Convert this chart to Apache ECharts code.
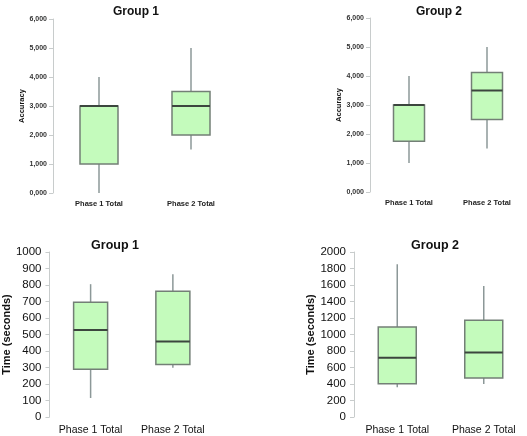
<!DOCTYPE html>
<html><head><meta charset="utf-8">
<script src="https://cdn.jsdelivr.net/npm/echarts@6/dist/echarts.min.js"></script>
<style>html,body{margin:0;padding:0;background:#fff}#c{width:527px;height:436px}</style>
</head><body><div id="c"></div>
<script>
var categories = ['Phase 1 Total', 'Phase 2 Total'];
// [min, Q1, median, Q3, max]
var accG1 = [[0, 1, 3, 3, 4], [1.5, 2, 3, 3.5, 5]];
var accG2 = [[1, 1.75, 3, 3, 4], [1.5, 2.5, 3.5, 4.125, 5]];
var timeG1 = [[115, 290, 527, 695, 805], [298, 318, 457, 762, 865]];
var timeG2 = [[362, 402, 717, 1092, 1852], [400, 474, 781, 1174, 1587]];
var accTicks = [0, 1, 2, 3, 4, 5, 6];

var chart = echarts.init(document.getElementById('c'), null, {renderer: 'canvas'});
var FILL = '#c4fbbc', EDGE = '#737f76', WHISK = '#8c9898', MED = '#3c463e';
var FONT = 'Liberation Sans, Arial, sans-serif';

function render(boxW) {
  return function (params, api) {
    var x = api.value(0);
    var pMin = api.coord([x, api.value(1)]);
    var pQ1 = api.coord([x, api.value(2)]);
    var pMed = api.coord([x, api.value(3)]);
    var pQ3 = api.coord([x, api.value(4)]);
    var pMax = api.coord([x, api.value(5)]);
    var cx = pQ1[0], h = boxW / 2;
    return {type: 'group', children: [
      {type: 'line', shape: {x1: cx, y1: pMax[1], x2: cx, y2: pQ3[1]}, style: {stroke: WHISK, lineWidth: 1.5}},
      {type: 'line', shape: {x1: cx, y1: pQ1[1], x2: cx, y2: pMin[1]}, style: {stroke: WHISK, lineWidth: 1.5}},
      {type: 'rect', shape: {x: cx - h, y: pQ3[1], width: boxW, height: pQ1[1] - pQ3[1]}, style: {fill: FILL, stroke: EDGE, lineWidth: 1.5}},
      {type: 'line', shape: {x1: cx - h, y1: pMed[1], x2: cx + h, y2: pMed[1]}, style: {stroke: MED, lineWidth: 2}}
    ]};
  };
}
function toData(arr) { return arr.map(function (v, i) { return [i].concat(v); }); }

var grids = [
  {left: 53, top: 19, width: 184, height: 174},
  {left: 370, top: 18, width: 156, height: 174},
  {left: 42, top: 252, width: 172, height: 167},
  {left: 354, top: 252, width: 184, height: 165}
];
var sets = [accG1, accG2, timeG1, timeG2];
var boxWs = [38, 31, 34, 38];
var small = [true, true, false, false];

var xAxes = [], yAxes = [], series = [];
for (var i = 0; i < 4; i++) {
  var sm = small[i];
  xAxes.push({type: 'category', gridIndex: i, data: categories,
    axisLine: {show: false}, axisTick: {show: false},
    axisLabel: {interval: 0, hideOverlap: false, color: sm ? '#222' : '#111', fontFamily: FONT, fontWeight: sm ? 'bold' : 'normal', fontSize: sm ? 7.5 : 10.5, margin: sm ? 7 : 8}});
  var y = {type: 'value', gridIndex: i,
    axisLine: {show: true, lineStyle: {color: '#c8cccc', width: 1}},
    axisTick: {show: true, length: 4, lineStyle: {color: '#c8cccc'}},
    splitLine: {show: false},
    nameLocation: 'middle', nameRotate: 90,
    nameTextStyle: {fontFamily: FONT, fontWeight: 'bold', color: '#111', fontSize: sm ? 7.5 : 11},
    axisLabel: {color: sm ? '#333' : '#111', fontFamily: FONT, fontWeight: sm ? 'bold' : 'normal', fontSize: sm ? 7 : 11.5, margin: sm ? 6 : 8}};
  if (sm) {
    y.min = accTicks[0]; y.max = accTicks[accTicks.length - 1]; y.interval = 1;
    y.name = 'Accuracy'; y.nameGap = 25;
    y.axisLabel.formatter = function (v) { return v.toFixed(3).replace('.', ','); };
  } else if (i === 2) {
    y.min = 0; y.max = 1000; y.interval = 100; y.name = 'Time (seconds)'; y.nameGap = 32;
    y.axisLabel.formatter = function (v) { return String(v); };
  } else {
    y.min = 0; y.max = 2000; y.interval = 200; y.name = 'Time (seconds)'; y.nameGap = 34;
    y.axisLabel.formatter = function (v) { return String(v); };
  }
  yAxes.push(y);
  series.push({type: 'custom', xAxisIndex: i, yAxisIndex: i, renderItem: render(boxWs[i]),
    encode: {x: 0, y: [1, 2, 3, 4, 5]}, data: toData(sets[i])});
}
var tStyle = {fontFamily: FONT, fontWeight: 'bold', fontSize: 12, color: '#111'};
var tStyle2 = {fontFamily: FONT, fontWeight: 'bold', fontSize: 12.5, color: '#111'};
chart.setOption({
  animation: false,
  title: [
    {text: 'Group 1', left: 131, top: 1, textAlign: 'center', textStyle: tStyle},
    {text: 'Group 2', left: 434, top: 1, textAlign: 'center', textStyle: tStyle},
    {text: 'Group 1', left: 110, top: 234, textAlign: 'center', textStyle: tStyle2},
    {text: 'Group 2', left: 430, top: 234, textAlign: 'center', textStyle: tStyle2}
  ],
  grid: grids, xAxis: xAxes, yAxis: yAxes, series: series
});
</script></body></html>
